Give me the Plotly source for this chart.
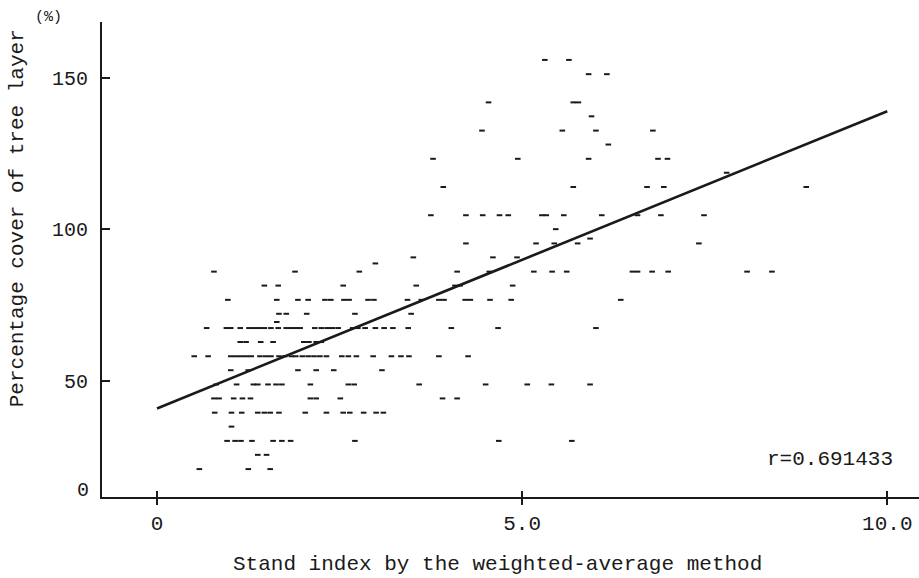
import plotly.graph_objects as go

# ---- data (x = stand index, y = percentage cover) ----
stand_index = [
    # cover ~21
    0.58, 1.25, 1.55,
    # ~26
    1.38, 1.50,
    # ~30
    0.96, 1.07, 1.15, 1.30, 1.59, 1.71, 1.83, 2.71, 4.68, 5.68,
    # ~35
    1.02,
    # ~40
    0.79, 1.02, 1.16, 1.38, 1.47, 1.55, 1.67, 2.03, 2.32, 2.55, 2.64, 2.83, 3.00, 3.10,
    # ~44
    0.78, 0.85, 1.05, 1.17, 1.28, 2.10, 2.18, 2.51, 3.91, 4.11,
    # ~49
    0.81, 1.09, 1.32, 1.38, 1.52, 1.63, 1.71, 2.10, 2.62, 2.70, 3.59, 4.50, 5.07, 5.40, 5.93,
    # ~54
    1.01, 1.25, 1.93, 2.18, 2.42, 3.08,
    # ~58
    0.51, 0.70, 1.01, 1.08, 1.15, 1.22, 1.29, 1.41, 1.49, 1.56, 1.67, 1.75, 1.84, 1.90,
    1.99, 2.07, 2.15, 2.23, 2.32, 2.53, 2.62, 2.73, 2.96, 3.21, 3.34, 3.45, 3.86, 4.26,
    # ~63
    1.14, 1.22, 1.42, 1.59, 2.01, 2.08, 2.18, 2.25,
    # ~68
    0.68, 0.95, 1.01, 1.14, 1.26, 1.33, 1.40, 1.47, 1.56, 1.66, 1.77, 1.84, 1.90, 1.96,
    2.16, 2.25, 2.33, 2.40, 2.48, 2.68, 2.75, 2.85, 2.99, 3.11, 3.23, 3.44, 4.03, 4.67, 6.01,
    # ~70
    1.64,
    # ~72
    1.67, 1.77, 2.05, 2.71, 3.48,
    # ~77
    0.97, 1.64, 1.93, 2.07, 2.30, 2.38, 2.56, 2.63, 2.89, 2.97, 3.43, 3.62, 3.86, 3.93,
    4.22, 4.29, 4.56, 4.85, 6.35,
    # ~81
    1.47, 1.66, 2.55, 3.55, 4.08, 4.15, 4.87,
    # ~86
    0.78, 1.89, 2.77, 4.11, 4.55, 5.16, 5.41, 5.61, 6.51, 6.58, 6.78, 7.00, 8.08, 8.42,
    # ~89
    2.99,
    # ~91
    3.51, 4.60, 4.93,
    # ~95
    4.23, 5.19, 5.44, 5.76, 7.42,
    # ~97
    5.93,
    # ~100
    5.46,
    # ~105
    3.75, 4.23, 4.46, 4.69, 4.81, 5.27, 5.33, 5.57, 6.09, 6.58, 6.90, 7.49,
    # ~114
    3.92, 5.70, 6.71, 6.94, 8.89,
    # ~119
    7.80,
    # ~123
    3.78, 4.94, 5.91, 6.86, 6.99,
    # ~128
    6.18,
    # ~133
    4.45, 5.55, 6.01, 6.79,
    # ~137
    5.95,
    # ~142
    4.54, 5.70, 5.77,
    # ~151
    5.91, 6.16,
    # ~156
    5.31, 5.64,
]

cover_levels = [21.0, 25.7, 30.3, 35.0, 39.6, 44.3, 48.9, 53.6, 58.2, 62.9, 67.5, 69.5,
                72.2, 76.8, 81.5, 86.1, 88.8, 90.8, 95.4, 97.0, 100.1, 104.7, 114.0,
                118.7, 123.3, 128.0, 132.6, 137.3, 141.9, 151.2, 155.9]
points_per_level = [3, 2, 10, 1, 14, 10, 15, 6, 28, 8, 29, 1,
                    5, 19, 7, 14, 1, 3, 5, 1, 1, 12, 5,
                    1, 5, 1, 4, 1, 3, 2, 2]

cover = []
for lvl, n in zip(cover_levels, points_per_level):
    cover.extend([lvl] * n)

# regression line
fit_intercept = 41.0
fit_slope = 9.8
fit_x = [0.0, 10.0]
fit_y = [fit_intercept + fit_slope * v for v in fit_x]
r_text = "r=0.691433"

x_ticks = [0, 5, 10]
x_ticktext = ["0", "5.0", "10.0"]
y_ticks = [50, 100, 150]
y_ticktext = ["50", "100", "150"]

FONT = "Liberation Mono, Courier New, monospace"
INK = "#1a1a1a"

fig = go.Figure()
fig.add_trace(go.Scatter(
    x=stand_index, y=cover, mode="markers",
    marker=dict(symbol="line-ew", size=4, line=dict(width=2, color=INK)),
    hoverinfo="x+y", showlegend=False,
))
fig.add_trace(go.Scatter(
    x=fit_x, y=fit_y, mode="lines", xaxis="x2",
    line=dict(color=INK, width=2.6), showlegend=False,
))

x_range = [-0.753, 10.434]
y_range = [11.8, 168.4]

fig.update_layout(
    width=919, height=578,
    margin=dict(l=102, r=0, t=22, b=81),
    paper_bgcolor="white", plot_bgcolor="white",
    font=dict(family=FONT, color=INK, size=21),
    xaxis=dict(range=x_range, tickvals=x_ticks, ticktext=x_ticktext,
               ticks="outside", ticklen=6, tickwidth=2, tickcolor=INK,
               showline=True, linewidth=2, linecolor=INK,
               showgrid=False, zeroline=False,
               tickfont=dict(size=21, family=FONT, color=INK), ticklabelstandoff=0),
    xaxis2=dict(range=x_range, overlaying="x", anchor="y", tickvals=x_ticks,
                ticks="inside", ticklen=6, tickwidth=2, tickcolor=INK,
                showticklabels=False, showline=False, showgrid=False, zeroline=False),
    yaxis=dict(range=y_range, tickvals=y_ticks, ticktext=y_ticktext,
               ticks="inside", ticklen=8, tickwidth=2, tickcolor=INK,
               showline=True, linewidth=2, linecolor=INK,
               showgrid=False, zeroline=False,
               tickfont=dict(size=20, family=FONT, color=INK), ticklabelstandoff=8),
    annotations=[
        dict(text="0", xref="paper", x=-0.014, xanchor="right", yref="y", y=14.1,
             yanchor="middle", showarrow=False, font=dict(size=20)),
        dict(text="Percentage cover of tree layer", xref="paper", x=-0.104,
             yref="y", y=103.7, textangle=-90, showarrow=False,
             xanchor="center", yanchor="middle", font=dict(size=21)),
        dict(text="(%)", xref="paper", x=-0.066, yref="paper", y=1.01,
             showarrow=False, xanchor="center", yanchor="middle", font=dict(size=15)),
        dict(text="Stand index by the weighted-average method", xref="x", x=4.66,
             yref="paper", y=-0.142, showarrow=False, xanchor="center",
             yanchor="middle", font=dict(size=21)),
        dict(text=r_text, xref="x", x=10.1, xanchor="right", yref="y", y=24.3,
             yanchor="middle", showarrow=False, font=dict(size=21)),
    ],
)

fig.write_html("out.html")
